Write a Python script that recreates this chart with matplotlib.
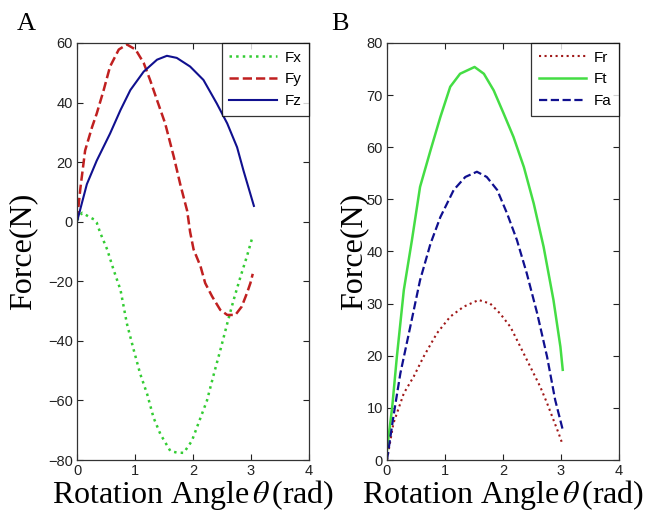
import matplotlib
matplotlib.use("Agg")
import matplotlib.pyplot as plt

# ---- Panel A data ----
fx_theta = [0, 0.09, 0.23, 0.29, 0.34, 0.40, 0.52, 0.63, 0.75, 0.86, 0.98, 1.09, 1.21, 1.32, 1.44, 1.61, 1.72, 1.84, 1.98, 2.13, 2.24, 2.36, 2.47, 2.59, 2.70, 2.82, 2.93, 3.03]
fx_vals = [0.5, 3.0, 1.4, 0.8, -0.3, -3.7, -9.3, -16.1, -22.9, -34.2, -43.2, -51.1, -57.9, -65.8, -71.4, -77.0, -77.5, -77.6, -73.6, -65.8, -60.1, -51.1, -43.2, -34.2, -26.3, -18.4, -11.6, -4.8]

fy_theta = [0, 0.06, 0.14, 0.26, 0.34, 0.46, 0.57, 0.72, 0.86, 1.01, 1.15, 1.26, 1.38, 1.52, 1.67, 1.78, 1.90, 1.95, 2.01, 2.13, 2.21, 2.33, 2.47, 2.59, 2.73, 2.84, 2.93, 2.99, 3.03]
fy_vals = [0.5, 11.5, 23.9, 31.8, 36.3, 44.2, 52.1, 57.8, 59.5, 57.8, 53.3, 47.6, 40.8, 33.0, 21.7, 12.6, 3.6, -3.4, -9.3, -15.0, -20.6, -25.1, -29.6, -31.3, -31.3, -28.5, -24.0, -20.6, -17.5]

fz_theta = [0, 0.17, 0.34, 0.57, 0.75, 0.92, 1.15, 1.38, 1.55, 1.72, 1.95, 2.18, 2.41, 2.59, 2.76, 2.87, 3.05]
fz_vals = [0, 12.6, 20.5, 29.6, 37.5, 44.2, 50.4, 54.4, 55.7, 55.0, 52.1, 47.6, 39.7, 33.0, 25.0, 17.2, 5.3]

# ---- Panel B data ----
fr_theta = [0, 0.11, 0.29, 0.46, 0.63, 0.86, 1.09, 1.32, 1.58, 1.78, 1.95, 2.13, 2.30, 2.47, 2.64, 2.76, 2.87, 2.96, 3.03]
fr_vals = [0, 7.0, 12.8, 16.0, 19.8, 24.3, 27.5, 29.4, 30.7, 30.0, 28.1, 25.5, 21.7, 17.9, 14.1, 10.9, 7.7, 5.1, 2.9]

ft_theta = [0, 0.09, 0.17, 0.29, 0.43, 0.57, 0.75, 0.92, 1.09, 1.26, 1.51, 1.67, 1.84, 2.01, 2.18, 2.36, 2.53, 2.70, 2.87, 2.99, 3.03]
ft_vals = [1.9, 10.2, 19.8, 32.6, 42.2, 52.4, 59.4, 65.8, 71.6, 74.1, 75.4, 74.1, 70.9, 66.5, 62.0, 56.2, 49.2, 40.9, 30.7, 21.7, 17.3]

fa_theta = [0, 0.11, 0.23, 0.40, 0.57, 0.75, 0.92, 1.15, 1.35, 1.55, 1.72, 1.90, 2.07, 2.24, 2.41, 2.59, 2.76, 2.90, 3.03]
fa_vals = [0, 8.3, 16.6, 25.5, 34.5, 41.5, 46.6, 51.8, 54.3, 55.3, 54.3, 51.8, 47.3, 42.2, 35.8, 28.1, 19.8, 11.5, 5.8]

xticks = [0, 1, 2, 3, 4]
yticks_a = [-80, -60, -40, -20, 0, 20, 40, 60]
yticks_b = [0, 10, 20, 30, 40, 50, 60, 70, 80]

plt.rcParams['mathtext.fontset'] = 'stix'

fig = plt.figure(figsize=(6.61, 5.13), dpi=100)
W, H = 661, 513
axA = fig.add_axes([77 / W, (H - 460) / H, 232 / W, 417 / H])
axB = fig.add_axes([387 / W, (H - 460) / H, 232 / W, 417 / H])

label_font = dict(family='Liberation Serif', size=23)

def style(ax, yticks, ypad):
    ax.set_xlim(0, 4)
    ax.set_ylim(yticks[0], yticks[-1])
    ax.set_xticks(xticks)
    ax.set_yticks(yticks)
    ax.tick_params(direction='in', top=True, right=True, length=4, width=0.8,
                   labelsize=10.5, pad=3, colors='#222222')
    for lab in ax.get_xticklabels() + ax.get_yticklabels():
        lab.set_fontfamily('Liberation Sans')
    for s in ax.spines.values():
        s.set_linewidth(0.9)
        s.set_color('#333333')
    ax.set_xlabel(r'Rotation Angle$\,\theta\,$(rad)', fontdict=label_font, labelpad=0)
    ax.set_ylabel('Force(N)', fontdict=label_font, labelpad=ypad)

axA.plot(fx_theta, fx_vals, color='#33cc33', linestyle=':', lw=1.8, label='Fx')
axA.plot(fy_theta, fy_vals, color='#c02020', linestyle='--', lw=1.8, label='Fy')
axA.plot(fz_theta, fz_vals, color='#10108f', linestyle='-', lw=1.5, label='Fz')
style(axA, yticks_a, 8)

axB.plot(fr_theta, fr_vals, color='#a01818', linestyle=':', lw=1.5, label='Fr')
axB.plot(ft_theta, ft_vals, color='#44dd44', linestyle='-', lw=1.8, label='Ft')
axB.plot(fa_theta, fa_vals, color='#10108f', linestyle='--', lw=1.6, label='Fa')
style(axB, yticks_b, -1)

for ax in (axA, axB):
    leg = ax.legend(loc='upper right', prop=dict(family='Liberation Sans', size=11),
                    frameon=True, fancybox=False, borderaxespad=0, handlelength=3.1,
                    handletextpad=0.5, labelspacing=0.5, borderpad=0.5)
    leg.get_frame().set_edgecolor('black')
    leg.get_frame().set_linewidth(0.9)

fig.text(17 / W, 1 - 24 / H, 'A', family='Liberation Serif', size=19, va='center', ha='left')
fig.text(331 / W, 1 - 24 / H, 'B', family='Liberation Serif', size=19, va='center', ha='left')

fig.savefig('out.png', dpi=100)
